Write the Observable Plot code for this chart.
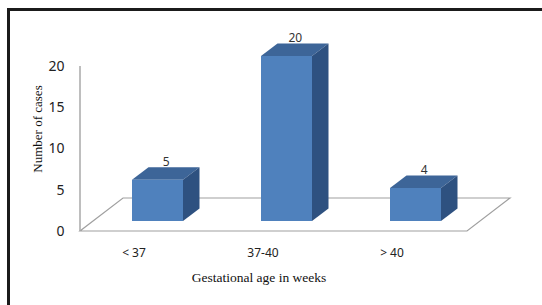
<!DOCTYPE html>
<html><head><meta charset="utf-8">
<script src="https://cdn.jsdelivr.net/npm/d3@7"></script>
<script src="https://cdn.jsdelivr.net/npm/@observablehq/plot@0.6"></script>
<style>
html,body{margin:0;padding:0;background:#fff;}
#wrap{position:relative;width:542px;height:305px;overflow:hidden;background:#fff;}
#border{position:absolute;left:7px;top:8px;width:540px;height:300px;border-left:3px solid #1b1b1b;border-top:3px solid #1b1b1b;}
#chart{position:absolute;left:0;top:0;}
</style></head><body>
<div id="wrap"><div id="chart"></div><div id="border"></div></div>
<script>
const categories = ["< 37", "37-40", "> 40"];
const cases = [5, 20, 4];
const yTicks = [0, 5, 10, 15, 20];
const xTitle = "Gestational age in weeks";
const yTitle = "Number of cases";

const data = categories.map((c, i) => ({cat: c, val: cases[i]}));

const FRONT = "#4F81BD", TOP = "#3D6598", SIDE = "#2E5180";
const BX = 13, BY = -10;     // bar front offset from floor front
const BW = 51;               // bar width
const DX = 16.5, DY = -12.5; // bar depth
const FX = 43, FY = -33;     // floor depth

function faces(index, scales, values, dimensions) {
  const g = d3.create("svg:g");
  const x = scales.x, y = scales.y;
  const bw = x.bandwidth ? x.bandwidth() : 129;
  const x0 = dimensions.marginLeft, x1 = dimensions.width - dimensions.marginRight;
  const yb = y(0);
  g.append("path")
    .attr("d", `M${x0},${yb}L${x1},${yb}L${x1 + FX},${yb + FY}L${x0 + FX},${yb + FY}Z`)
    .attr("fill", "none").attr("stroke", "#a0a0a0").attr("stroke-width", 1.2);
  g.append("line")
    .attr("x1", x0).attr("x2", x0).attr("y1", y(0)).attr("y2", y(d3.max(yTicks)))
    .attr("stroke", "#a8a8a8").attr("stroke-width", 1.5);
  for (const d of data) {
    const l = x(d.cat) + bw / 2 + BX - BW / 2, r = l + BW;
    const t = y(d.val) + BY, b = y(0) + BY;
    g.append("path")
      .attr("d", `M${l},${t}L${r},${t}L${r + DX},${t + DY}L${l + DX},${t + DY}Z`)
      .attr("fill", TOP);
    g.append("path")
      .attr("d", `M${r},${t}L${r + DX},${t + DY}L${r + DX},${b + DY}L${r},${b}Z`)
      .attr("fill", SIDE);
  }
  return g.node();
}

const chart = Plot.plot({
  width: 542,
  height: 305,
  marginTop: 66,
  marginBottom: 74,
  marginLeft: 80,
  marginRight: 75,
  style: {fontFamily: "'Noto Sans', sans-serif", color: "#222", background: "transparent"},
  x: {domain: categories, padding: 0, axis: null},
  y: {domain: [0, 20], axis: null},
  marks: [
    faces,
    Plot.barY(data, {x: "cat", y: "val", fill: FRONT, insetLeft: 39, insetRight: 39, dx: BX, dy: BY}),
    Plot.axisY({ticks: yTicks, tickSize: 0, tickPadding: 16, fontSize: 14, label: null}),
    Plot.axisX({tickSize: 0, tickPadding: 17, dx: -11, fontSize: 12, label: null}),
    Plot.text(data, {x: "cat", y: "val", text: d => String(d.val), dx: BX + DX / 2, dy: BY + DY - 6, fontSize: 12, fill: "#333"}),
    Plot.text([xTitle], {frameAnchor: "bottom", dx: -15, dy: 50, fontSize: 13.5, fontFamily: "'Liberation Serif', serif", fill: "#111"}),
    Plot.text([yTitle], {frameAnchor: "left", textAnchor: "middle", rotate: -90, dx: -43, dy: -20, fontSize: 13, fontFamily: "'Liberation Serif', serif", fill: "#111"})
  ]
});
document.getElementById("chart").appendChild(chart);
</script>
</body></html>
